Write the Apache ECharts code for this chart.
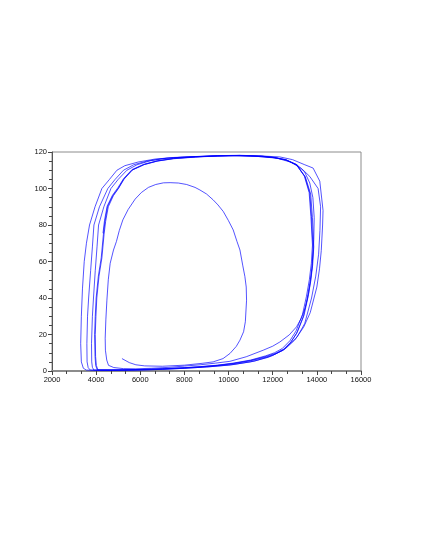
<!DOCTYPE html>
<html>
<head>
<meta charset="utf-8">
<script src="https://cdn.jsdelivr.net/npm/echarts@6/dist/echarts.min.js"></script>
<style>
html,body{margin:0;padding:0;background:#fff;}
#chart{width:421px;height:545px;}
</style>
</head>
<body>
<div id="chart"></div>
<script>
// axis ticks
var xTicks = [2000, 4000, 6000, 8000, 10000, 12000, 14000, 16000];
var yTicks = [0, 20, 40, 60, 80, 100, 120];

// trajectory, loop by loop (x, y)
var innerLoop = [
  [5170,6.8],[5500,4.6],[5800,3.4],[6200,2.8],[7000,2.6],[8000,3.2],[8800,4.2],[9300,5.0],[9750,6.8],
  [10063,9.6],[10350,13.5],[10515,16.9],[10680,21.5],[10760,27],[10815,38.8],[10800,46],[10740,51.7],
  [10640,58],[10515,66.3],[10380,71],[10210,77.3],[9990,82.5],[9760,87.4],[9520,91],[9300,93.8],
  [9000,97],[8700,99.2],[8480,100.6],[8100,102.2],[7725,103],[7350,103.2],[7050,103.1],[6700,102.2],
  [6370,100.6],[6050,97.8],[5767,94.2],[5450,88.5],[5210,82.8],[5050,77],[4920,71],[4786,66.3],
  [4636,59],[4550,50],[4487,38.8],[4440,28],[4410,18],[4420,11.4],[4480,6],[4560,3.1],[4800,1.9],[5240,1.3]
];
var loop1 = [
  [5800,1.2],[6500,1.5],[7300,2.0],[8000,2.7],[8710,3.4],[9400,4.3],[10063,5.3],[10800,7.8],[11570,11.4],
  [12000,13.6],[12324,15.9],[12750,19.8],[13079,24.2],[13300,29],[13480,35],[13620,42],[13720,50],
  [13800,60],[13860,72],[13880,84],[13820,95],[13680,103],[13450,109],[13100,113],[12600,115.8],
  [12000,117],[11000,117.8],[10000,118],[9000,117.6],[8000,117.2],[7300,116.7],[6700,116.2],[5900,114.5],
  [5300,112.5],[4940,110],[4605,105],[4260,100],[3950,90],[3700,80],[3560,70],[3460,60],[3380,45],
  [3330,30],[3300,15],[3330,5],[3420,1.5],[3560,0.5]
];
var loop2 = [
  [4200,0.3],[5000,0.3],[6000,0.5],[7000,0.9],[8000,1.5],[9000,2.2],[10000,3.2],[11000,5],[11800,7.5],
  [12500,11.5],[13000,17],[13400,24],[13700,32],[14000,46],[14120,56],[14200,66],[14260,80],[14280,88],
  [14133,104],[13830,111.2],[13455,113],[12900,115.8],[12324,117.3],[11500,117.8],[10500,118.1],
  [9500,117.9],[8500,117.5],[7500,117],[7000,116.4],[6300,115],[5700,113],[5238,110],[4860,105],
  [4530,100],[4150,90],[3900,80],[3830,68],[3750,55],[3660,40],[3610,30],[3580,15],[3590,5],[3640,1.8],[3740,0.5]
];
var loop3 = [
  [4300,0.4],[5200,0.4],[6200,0.6],[7200,1.0],[8200,1.6],[9200,2.4],[10200,3.5],[11200,5.5],[12000,8.5],
  [12600,12.5],[13100,18.5],[13450,26],[13760,40],[13950,52],[14080,64],[14140,77],[14170,90],[14056,100],
  [13680,106.6],[13300,111],[12800,114.5],[12200,116.6],[11200,117.7],[10200,118],[9200,117.8],[8200,117.4],
  [7200,116.6],[6450,115.2],[5850,113],[5392,110],[5000,105],[4670,100],[4350,90],[4110,80],[4040,68],
  [3960,55],[3880,40],[3830,30],[3790,15],[3800,5],[3830,2],[3900,0.5]
];
var cycleA = [
  [4500,0.6],[5000,0.6],[6000,0.8],[7000,1.1],[7800,1.6],[8710,2.2],[9500,3.0],[10210,4.0],[11000,5.6],
  [11720,7.7],[12100,9.2],[12470,11.4],[12800,15.5],[13079,20.5],[13380,29.7],[13550,39],[13680,48],
  [13780,56],[13830,66.3],[13757,84.6],[13680,97.5],[13455,106.6],[13079,113],[12600,115.6],[12100,116.8],
  [11500,117.6],[10500,118],[9500,117.8],[8500,117.2],[7500,116.3],[6750,115],[6143,113],[5617,110],
  [5240,105],[5000,100],[4750,96],[4516,90],[4400,82],[4330,75],[4230,62],[4100,52],[4000,40],[3960,30],
  [3930,20],[3950,8],[3980,3],[4050,0.6]
];
var cycleB = [
  [4600,0.5],[5200,0.6],[6100,0.8],[7000,1.2],[7900,1.7],[8710,2.3],[9500,3.1],[10250,4.2],[11000,5.8],
  [11700,8.0],[12150,9.8],[12500,12.0],[12850,16.2],[13120,21.5],[13420,30.5],[13590,40],[13720,49],
  [13810,58],[13860,68],[13800,84],[13720,97],[13480,106.3],[13100,112.8],[12620,115.5],[12100,116.9],
  [11500,117.7],[10500,118.1],[9500,117.9],[8500,117.3],[7500,116.4],[6800,115.1],[6200,113.2],[5650,110.2],
  [5270,105.2],[5020,100.2],[4780,96],[4550,90],[4430,82],[4360,75],[4260,62],[4130,52],[4030,40],[3990,30],
  [3960,20],[3975,8],[4010,3],[4080,0.6]
];
var cycleC = [
  [4700,0.6],[5300,0.7],[6200,0.9],[7100,1.3],[8000,1.8],[8710,2.4],[9500,3.2],[10200,4.3],[11000,6.0],
  [11680,8.3],[12080,10],[12430,12.3],[12780,16.6],[13060,22],[13350,31],[13530,41],[13660,50],
  [13750,59],[13800,69],[13730,84.8],[13650,97.8],[13430,106.9],[13060,113.2],[12580,115.8],[12080,117],
  [11500,117.8],[10500,118.2],[9500,118],[8500,117.4],[7500,116.5],[6780,115.2],[6170,113.3],[5630,110.4],
  [5250,105.5],[4990,100.5],[4740,96.3],[4500,90.4],[4380,82.5],[4310,75.5]
];

var trajectory = [].concat(innerLoop, loop1, loop2, loop3, cycleA, cycleB, cycleC);

var chart = echarts.init(document.getElementById('chart'), null, {renderer: 'canvas'});
var labelFont = {fontSize: 7.5, color: '#111', fontFamily: 'Liberation Sans, Arial, sans-serif',
  formatter: function (v) { return String(v); }};

chart.setOption({
  animation: false,
  backgroundColor: '#fff',
  grid: {
    left: 52, right: 60, top: 152, bottom: 174,
    show: true, borderColor: '#8c8c8c', borderWidth: 1,
    containLabel: false, outerBoundsMode: 'none'
  },
  xAxis: {
    type: 'value',
    min: xTicks[0], max: xTicks[xTicks.length - 1], interval: xTicks[1] - xTicks[0],
    axisLine: {show: true, onZero: false, lineStyle: {color: '#8c8c8c', width: 2}},
    axisTick: {show: true, length: 4, lineStyle: {color: '#444', width: 1}},
    minorTick: {show: true, splitNumber: 3, length: 3, lineStyle: {color: '#444', width: 1}},
    splitLine: {show: false},
    axisLabel: Object.assign({margin: 5}, labelFont)
  },
  yAxis: {
    type: 'value',
    min: yTicks[0], max: yTicks[yTicks.length - 1], interval: yTicks[1] - yTicks[0],
    axisLine: {show: true, onZero: false, lineStyle: {color: '#555', width: 1}},
    axisTick: {show: true, length: 4, lineStyle: {color: '#444', width: 1}},
    minorTick: {show: true, splitNumber: 4, length: 3, lineStyle: {color: '#444', width: 1}},
    splitLine: {show: false},
    axisLabel: Object.assign({margin: 5}, labelFont)
  },
  series: [{
    type: 'line',
    data: trajectory,
    showSymbol: false,
    symbol: 'none',
    smooth: false,
    clip: true,
    lineStyle: {color: '#0000ff', width: 0.75, opacity: 0.9}
  }]
});
</script>
</body>
</html>
